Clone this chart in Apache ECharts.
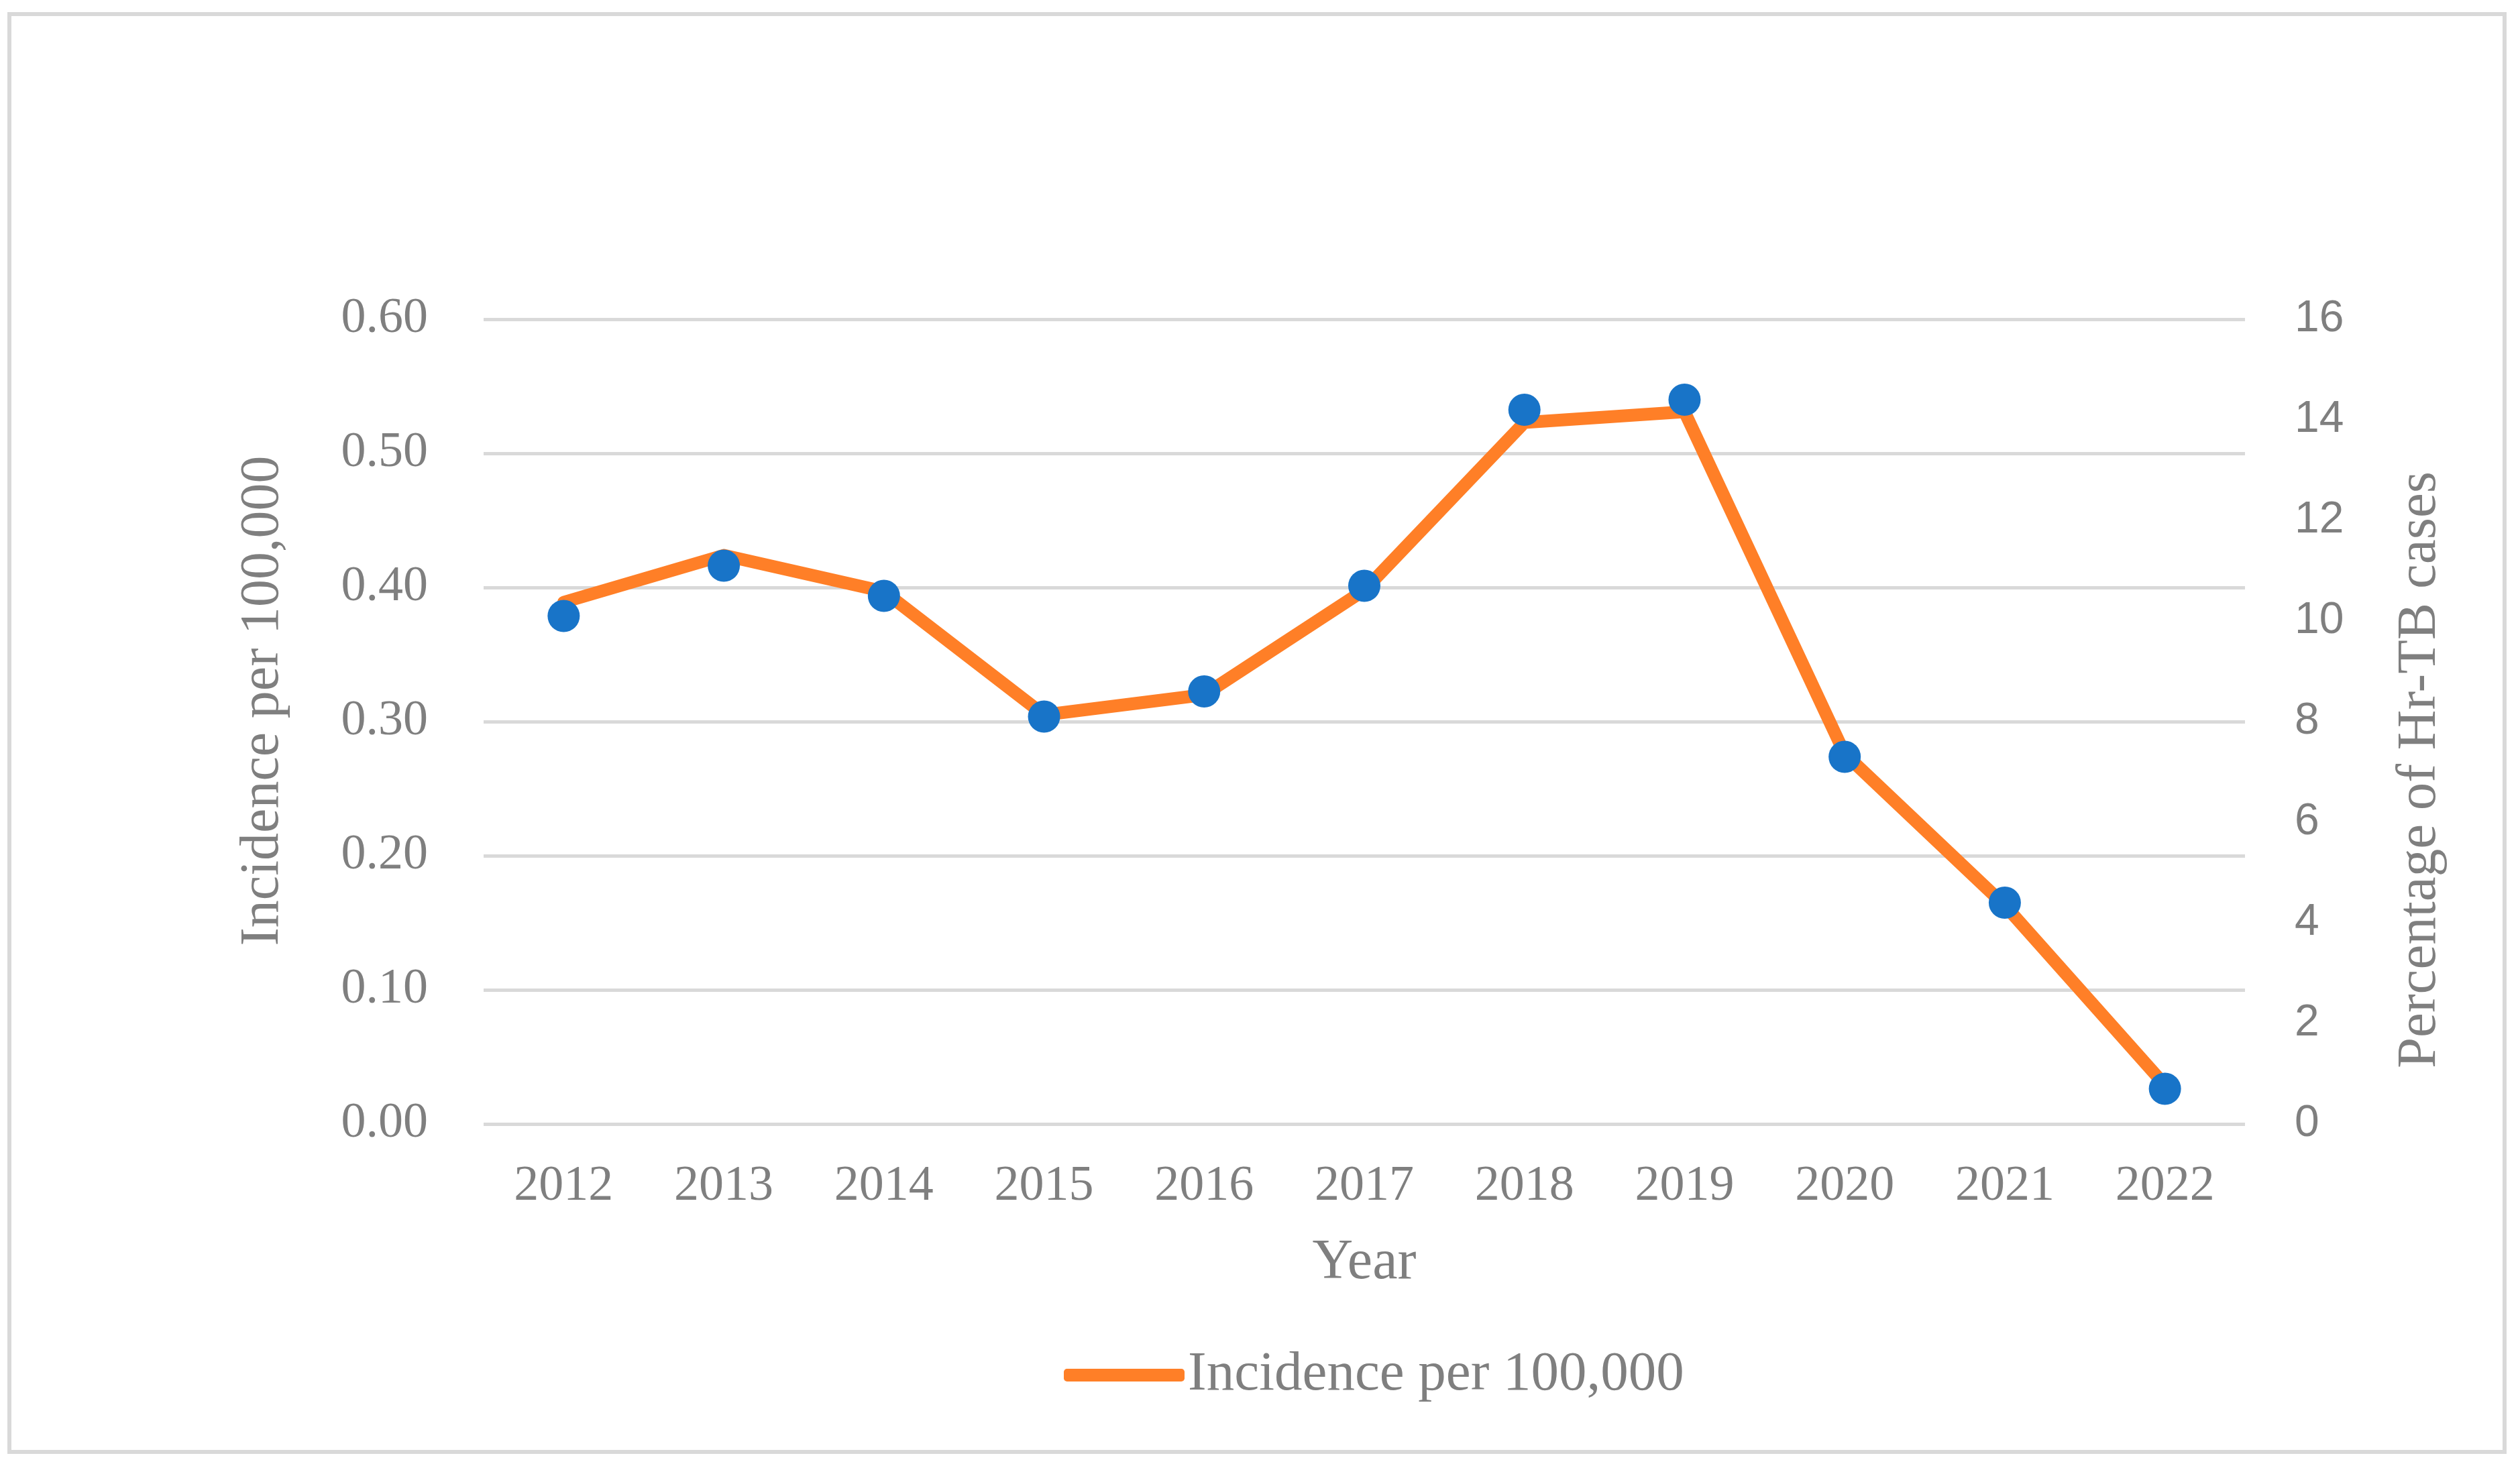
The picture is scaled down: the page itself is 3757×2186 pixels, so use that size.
<!DOCTYPE html>
<html>
<head>
<meta charset="utf-8">
<script src="https://cdn.jsdelivr.net/npm/echarts@6/dist/echarts.min.js"></script>
<style>
html,body{margin:0;padding:0;background:#fff;}
#chart{width:3757px;height:2186px;}
</style>
</head>
<body>
<div id="chart"></div>
<script>
const years = ['2012','2013','2014','2015','2016','2017','2018','2019','2020','2021','2022'];
const incidence = [0.389, 0.424, 0.397, 0.305, 0.320, 0.398, 0.523, 0.531, 0.276, 0.163, 0.029];
const percentHrTB = [10.1, 11.1, 10.5, 8.1, 8.6, 10.7, 14.2, 14.4, 7.3, 4.4, 0.7];
const leftTicks = [0, 0.1, 0.2, 0.3, 0.4, 0.5, 0.6];
const rightTicks = [0, 2, 4, 6, 8, 10, 12, 14, 16];

const gray = '#7f7f7f';
const serif = '"Liberation Serif", "Times New Roman", serif';
const sans = '"Liberation Sans", Arial, sans-serif';

const chart = echarts.init(document.getElementById('chart'), null, {renderer: 'canvas'});
chart.setOption({
  backgroundColor: '#fff',
  animation: false,
  graphic: [{
    type: 'rect', silent: true, z: -10,
    shape: {x: 14, y: 21, width: 3720, height: 2144},
    style: {fill: 'none', stroke: '#d9d9d9', lineWidth: 6}
  }],
  grid: {left: 721, right: 410, top: 476, bottom: 510, containLabel: false},
  legend: {
    data: ['Incidence per 100,000'],
    left: 1581, top: 2004,
    icon: 'roundRect',
    itemWidth: 180, itemHeight: 19,
    textStyle: {fontFamily: serif, fontSize: 83, color: gray}
  },
  xAxis: {
    type: 'category',
    data: years,
    boundaryGap: true,
    axisLine: {show: false},
    axisTick: {show: false},
    axisLabel: {fontFamily: serif, fontSize: 74, color: gray, margin: 57},
    name: 'Year',
    nameLocation: 'middle',
    nameGap: 166,
    nameTextStyle: {fontFamily: serif, fontSize: 84, color: gray}
  },
  yAxis: [{
    type: 'value',
    min: leftTicks[0], max: leftTicks[leftTicks.length - 1], interval: 0.1,
    axisLine: {show: false},
    axisTick: {show: false},
    axisLabel: {fontFamily: serif, fontSize: 74, color: gray, margin: 83,
      formatter: v => v.toFixed(2)},
    splitLine: {lineStyle: {color: '#d9d9d9', width: 5}},
    name: 'Incidence per 100,000',
    nameLocation: 'middle',
    nameRotate: 90,
    nameGap: 288,
    nameTextStyle: {fontFamily: serif, fontSize: 82, color: gray, padding: [0, 0, 0, 62]}
  }, {
    type: 'value',
    position: 'right',
    min: rightTicks[0], max: rightTicks[rightTicks.length - 1], interval: 2,
    axisLine: {show: false},
    axisTick: {show: false},
    splitLine: {show: false},
    axisLabel: {fontFamily: sans, fontSize: 66, color: gray, margin: 74},
    name: 'Percentage of Hr-TB cases',
    nameLocation: 'middle',
    nameRotate: 90,
    nameGap: 220,
    nameTextStyle: {fontFamily: serif, fontSize: 83, color: gray, padding: [0, 144, 0, 0]}
  }],
  series: [{
    name: 'Incidence per 100,000',
    type: 'line',
    yAxisIndex: 0,
    data: incidence,
    showSymbol: false,
    symbol: 'none',
    lineStyle: {color: '#FF7F27', width: 19, cap: 'round', join: 'round'},
    itemStyle: {color: '#FF7F27'},
    z: 2
  }, {
    name: 'Percentage of Hr-TB cases',
    type: 'scatter',
    yAxisIndex: 1,
    data: percentHrTB,
    symbol: 'circle',
    symbolSize: 48,
    itemStyle: {color: '#1874C8', opacity: 1},
    z: 3
  }]
});
</script>
</body>
</html>
